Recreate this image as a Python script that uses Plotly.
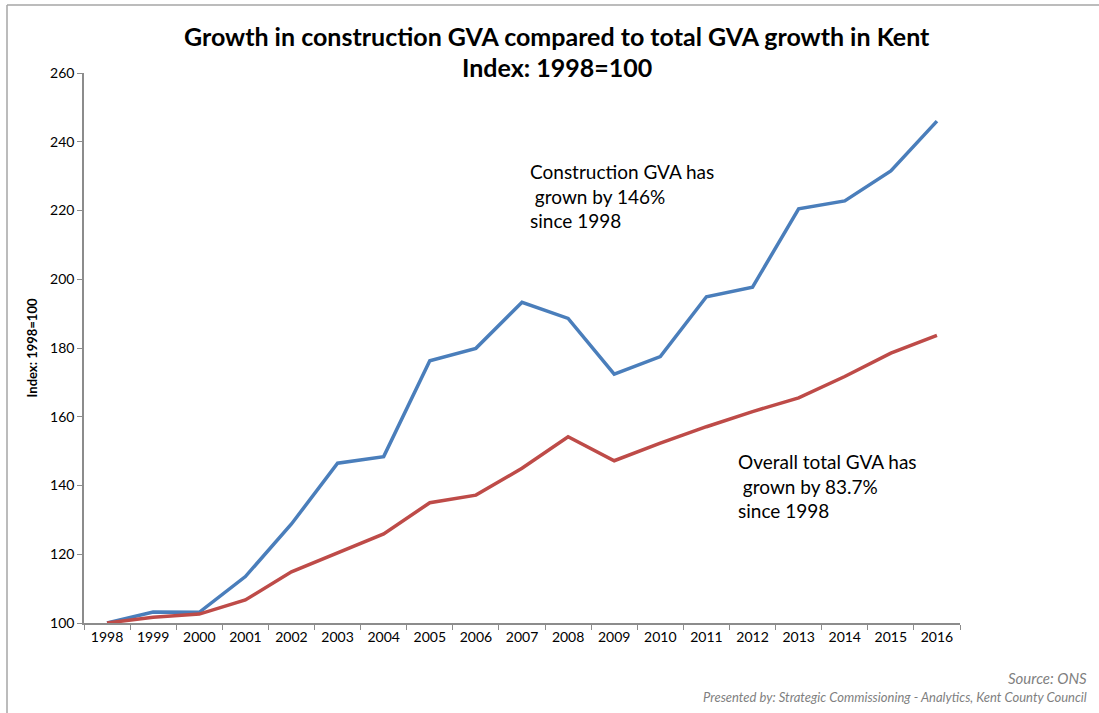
import plotly.graph_objects as go

years = [str(y) for y in range(1998, 2017)]
construction_gva = [100, 103.2, 103.1, 113.5, 128.8, 146.5, 148.4, 176.3, 179.9, 193.3,
                    188.6, 172.4, 177.5, 194.9, 197.7, 220.5, 222.8, 231.5, 246.0]
total_gva = [100, 101.7, 102.6, 106.7, 114.9, 120.4, 125.9, 135.0, 137.2, 145.0,
             154.2, 147.2, 152.3, 157.1, 161.5, 165.5, 171.7, 178.5, 183.7]
y_ticks = [100, 120, 140, 160, 180, 200, 220, 240, 260]

FONT = "Lato"
AXIS_COL = "#8c8c8c"

fig = go.Figure()
fig.add_trace(go.Scatter(x=years, y=construction_gva, mode="lines", name="Construction GVA",
                         line=dict(color="#4A7EBB", width=3.5), showlegend=False))
fig.add_trace(go.Scatter(x=years, y=total_gva, mode="lines", name="Total GVA",
                         line=dict(color="#BE4B48", width=3.5), showlegend=False))

fig.update_layout(
    width=1099, height=713,
    margin=dict(l=84, r=139, t=73, b=90),
    paper_bgcolor="white", plot_bgcolor="white",
    font=dict(family=FONT, color="black"),
    xaxis=dict(type="category", range=[-0.5, 18.5], showline=True, linecolor=AXIS_COL, linewidth=1.5,
               ticks="outside", tickson="boundaries", ticklen=5, tickcolor=AXIS_COL,
               showgrid=False, zeroline=False, tickfont=dict(size=14, family=FONT, color="black")),
    yaxis=dict(range=[100, 260], tickvals=y_ticks, showline=True, linecolor=AXIS_COL, linewidth=1.5,
               ticks="outside", ticklen=5, tickcolor=AXIS_COL, showgrid=False, zeroline=False,
               tickfont=dict(size=14, family=FONT, color="black"),
               title=dict(text="<b>Index: 1998=100</b>", font=dict(size=13, family=FONT), standoff=10)),
)

fig.add_annotation(xref="paper", yref="paper", x=(557 - 84) / 876, y=1 + (73 - 36) / 550,
                   text="<b>Growth in construction GVA compared to total GVA growth in Kent</b>",
                   showarrow=False, font=dict(size=25, family=FONT, color="black"), xanchor="center", yanchor="middle")
fig.add_annotation(xref="paper", yref="paper", x=(557 - 84) / 876, y=1 + (73 - 67) / 550,
                   text="<b>Index: 1998=100</b>",
                   showarrow=False, font=dict(size=25, family=FONT, color="black"), xanchor="center", yanchor="middle")

fig.add_annotation(xref="paper", yref="paper", x=(528 - 84) / 876, y=(623 - 158) / 550,
                   text="Construction GVA has<br> grown by 146%<br>since 1998", align="left",
                   showarrow=False, font=dict(size=19, family=FONT, color="black"),
                   xanchor="left", yanchor="top")
fig.add_annotation(xref="paper", yref="paper", x=(736 - 84) / 876, y=(623 - 448) / 550,
                   text="Overall total GVA has<br> grown by 83.7%<br>since 1998", align="left",
                   showarrow=False, font=dict(size=19, family=FONT, color="black"),
                   xanchor="left", yanchor="top")

fig.add_annotation(xref="paper", yref="paper", x=(1089 - 84) / 876, y=-(678 - 623) / 550,
                   text="<i>Source: ONS</i>", showarrow=False,
                   font=dict(size=15, family=FONT, color="#7f7f7f"), xanchor="right", yanchor="middle")
fig.add_annotation(xref="paper", yref="paper", x=(1089 - 84) / 876, y=-(697 - 623) / 550,
                   text="<i>Presented by: Strategic Commissioning - Analytics, Kent County Council</i>",
                   showarrow=False, font=dict(size=13, family=FONT, color="#7f7f7f"),
                   xanchor="right", yanchor="middle")

# outer chart border (partially cropped)
fig.add_shape(type="line", xref="paper", yref="paper",
              x0=(7 - 84) / 876, x1=(1099 - 84) / 876 + 0.01, y0=1 + (73 - 5) / 550, y1=1 + (73 - 5) / 550,
              line=dict(color="#a6a6a6", width=1.5))
fig.add_shape(type="line", xref="paper", yref="paper",
              x0=(7 - 84) / 876, x1=(7 - 84) / 876, y0=1 + (73 - 5) / 550, y1=-(713 - 623) / 550 - 0.01,
              line=dict(color="#a6a6a6", width=1.5))

fig.write_html("out.html", config={"displayModeBar": False},
               post_script="document.body.style.margin='0';document.body.style.overflow='hidden';")
